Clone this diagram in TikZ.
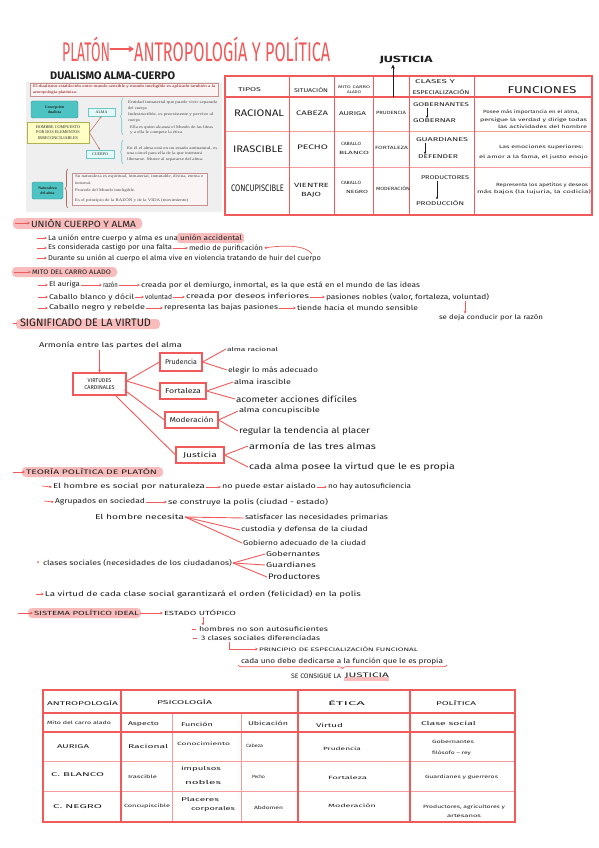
\documentclass[tikz,border=0pt]{standalone}
\usepackage{fontspec}
\setmainfont{Fira Sans}
\newfontfamily\serifpanel{Liberation Serif}
\usepackage{graphicx}
\usetikzlibrary{arrows.meta,decorations.pathreplacing,calc}
\definecolor{rd}{HTML}{F05A5A}
\definecolor{pk}{HTML}{F8BCBC}
\definecolor{ink}{HTML}{1E1E1E}
\definecolor{tl}{HTML}{4EC3C3}
\definecolor{tld}{HTML}{2A9A9A}
\definecolor{yl}{HTML}{FFFFC6}
\definecolor{yld}{HTML}{B0B050}
\definecolor{cy}{HTML}{E2FAFA}
\definecolor{cyd}{HTML}{6CC8C8}
\definecolor{pb}{HTML}{FBF4F4}
\definecolor{pbd}{HTML}{C89090}
\definecolor{brn}{HTML}{B86A5C}
\definecolor{panel}{HTML}{EFEFEF}
\definecolor{ltr}{HTML}{F59C9C}
\newcommand{\fw}[2]{\resizebox{#1pt}{\height}{#2}}
\begin{document}
\begin{tikzpicture}[x=1pt,y=-1pt,
  tx/.style={inner sep=0.8pt,anchor=west,text=ink,font=\fontsize{7}{8}\selectfont},
  txs/.style={tx,font=\fontsize{5.5}{6}\selectfont},
  txt/.style={tx,font=\fontsize{4.6}{5}\selectfont},
  txm/.style={tx,font=\fontsize{8.5}{9}\selectfont},
  txb/.style={tx,font=\fontsize{9.5}{10}\selectfont},
  txc/.style={inner sep=0.8pt,anchor=center,text=ink,font=\fontsize{6}{7}\selectfont},
  hd/.style={tx,font=\fontsize{7.5}{8}\selectfont},
  rarr/.style={draw=rd,line width=0.7pt,-{Stealth[length=2.8pt,width=2.6pt]}},
  barr/.style={draw=ink,line width=0.7pt,-{Stealth[length=2.5pt,width=2.3pt]}},
  rln/.style={draw=rd,line width=0.9pt},
  hlt/.style={fill=pk,rounded corners=4pt},
  vbx/.style={draw=rd,line width=1.1pt,inner sep=1.5pt,anchor=center,text=ink,font=\fontsize{7}{8}\selectfont},
  ps/.style={inner sep=0pt,anchor=west,text=black!72,font=\serifpanel\fontsize{3.9}{4.2}\selectfont},
  pbx/.style={inner sep=0pt,anchor=center,align=center,text=black!85,font=\serifpanel\bfseries\fontsize{3.9}{4.6}\selectfont},
  parr/.style={draw=brn,line width=0.5pt,-{Stealth[length=2pt,width=2pt]}},
]
\fill[white] (0,0) rectangle (599,848);
\useasboundingbox (0,0) rectangle (599,848);

% ---------- title ----------
\node[inner sep=0pt,anchor=west,text=rd,font=\fontsize{27}{28}\selectfont] (ti1) at (62,49) {\fw{48}{PLATÓN}};
\node[inner sep=0pt,anchor=west,text=rd,font=\fontsize{27}{28}\selectfont] (ti2) at (134,49) {\fw{196}{ANTROPOLOGÍA Y POLÍTICA}};
\draw[draw=rd,line width=1.2pt,-{Straight Barb[length=4pt,width=5pt]}] (ti1.east) -- (ti2.west);

\node[inner sep=0.5pt,anchor=center,text=ink,font=\bfseries\fontsize{9}{10}\selectfont] (jus) at (406,60) {\fw{53}{JUSTICIA}};
\node[inner sep=0pt,anchor=west,text=ink,font=\bfseries\fontsize{11}{12}\selectfont] (dual) at (50,76) {\fw{125}{DUALISMO ALMA-CUERPO}};

% ---------- panel ----------
\fill[panel] (26,82) rectangle (222,212);
\draw[pbd,fill=pb,line width=0.5pt] (30,83) rectangle (218,96);
\node[ps,text=red!55!black] (pt1) at (33,87) {\fw{182}{El dualismo establecido entre mundo sensible y mundo inteligible es aplicado también a la}};
\node[ps,text=red!55!black] (pt2) at (33,92.5) {\fw{44}{antropología platónica.}};
\node[pbx,draw=tld,fill=tl,rounded corners=1.5pt,minimum width=47pt,minimum height=17pt] (cd) at (54.5,109.5) {Concepción\\dualista};
\node[pbx,draw=yld,fill=yl,line width=0.6pt,minimum width=62pt,minimum height=21pt,font=\serifpanel\fontsize{4.2}{5.2}\selectfont] (hb) at (58,132.5) {HOMBRE COMPUESTO\\POR DOS ELEMENTOS\\IRRECONCILIABLES};
\node[pbx,draw=cyd,fill=cy,line width=0.6pt,minimum width=27pt,minimum height=8pt,font=\serifpanel\fontsize{4}{4.5}\selectfont] (alma) at (101.5,112) {ALMA};
\node[pbx,draw=cyd,fill=cy,line width=0.6pt,minimum width=28pt,minimum height=8pt,font=\serifpanel\fontsize{4}{4.5}\selectfont] (cue) at (100,154) {CUERPO};
\draw[parr] (hb.east) -- (alma.south);
\draw[parr] (hb.east) -- (cue.north);
\draw[cyd,line width=0.6pt,decorate,decoration={brace,amplitude=2.5pt}] (123,135) -- (123,98);
\node[ps] (e1) at (128,103) {\fw{89}{Entidad inmaterial que puede vivir separada}};
\node[ps] (e2) at (128,109) {\fw{19}{del cuerpo}};
\node[ps] (e3) at (128,115) {\fw{85}{Indestructible, es preexistente y pervive al}};
\node[ps] (e4) at (128,121) {\fw{12}{cuerpo}};
\node[ps] (e5) at (130,127.5) {\fw{83}{Ella es quien alcanza el Mundo de las Ideas}};
\node[ps] (e6) at (130,133) {\fw{52}{y a ella le compete la ética}};
\draw[cyd,line width=0.6pt,decorate,decoration={brace,amplitude=2.5pt}] (123,164) -- (123,140);
\node[ps] (c1l) at (127,148) {\fw{90}{En él el alma está en un estado antinatural, es}};
\node[ps] (c2l) at (127,154) {\fw{75}{una cárcel para ella de la que intentará}};
\node[ps] (c3l) at (127,160) {\fw{76}{liberarse. Muere al separarse del alma.}};
\node[pbx,draw=tld,fill=tl,rounded corners=1.5pt,minimum width=31pt,minimum height=17pt] (na) at (47.5,190.5) {Naturaleza\\[1pt]del alma};
\draw[brn,line width=0.7pt,decorate,decoration={brace,amplitude=3pt}] (68,208) -- (68,169);
\draw[pbd,fill=pb,line width=0.5pt] (72,173) rectangle (207,205);
\node[ps] (n1l) at (75,177) {\fw{128}{Su naturaleza es espiritual, inmaterial, inmutable, divina, eterna e}};
\node[ps] (n2l) at (75,183) {\fw{16}{inmortal.}};
\node[ps] (n3l) at (75,191) {\fw{60}{Procede del Mundo inteligible.}};
\node[ps] (n4l) at (75,200) {\fw{113}{Es el principio de la RAZÓN y de la VIDA (movimiento)}};

% ---------- top table ----------
\draw[rd,line width=1.1pt] (225,97) -- (592,97);
\draw[ltr,line width=1pt] (225,132) -- (592,132) (225,167) -- (592,167);
\foreach \cx in {289,334,373,409,474} {\draw[rd,line width=1pt] (\cx,76) -- (\cx,215);}
\draw[rd,line width=1.7pt] (225,76) rectangle (592,215);

\node[txs] (tTip) at (237,90) {\fw{23}{TIPOS}};
\node[txs] (tSit) at (293,90) {\fw{34}{SITUACIÓN}};
\node[txc,font=\fontsize{3.8}{4}\selectfont] (tMi1) at (354,87) {\fw{32}{MITO CARRO}};
\node[txc,font=\fontsize{3.8}{4}\selectfont] (tMi2) at (354,92) {\fw{14}{ALADO}};
\node[txc,font=\fontsize{5.5}{6}\selectfont] (tCl1) at (435,82) {\fw{40}{CLASES Y}};
\node[txc,font=\fontsize{5.5}{6}\selectfont] (tCl2) at (441,92) {\fw{57}{ESPECIALIZACIÓN}};
\node[txc,font=\fontsize{10}{11}\selectfont] (tFun) at (542,90) {\fw{69}{FUNCIONES}};
\coordinate (jst) at (393,97);
\draw[draw=ink,line width=1pt,-{Stealth[length=4pt,width=4pt]}] (jst) -- (jst |- jus.south);

\node[txb] (r1) at (233,113) {\fw{50}{RACIONAL}};
\node[txb] (r2) at (232,149) {\fw{50}{IRASCIBLE}};
\node[txb] (r3) at (230,188) {\fw{53}{CONCUPISCIBLE}};
\node[tx,font=\fontsize{6.5}{7}\selectfont] (s1) at (295,113) {\fw{32}{CABEZA}};
\node[tx,font=\fontsize{6.5}{7}\selectfont] (s2) at (296,147) {\fw{31}{PECHO}};
\node[tx,font=\fontsize{6}{7}\selectfont] (s3a) at (293,185) {\fw{35}{VIENTRE}};
\node[tx,font=\fontsize{6}{7}\selectfont] (s3b) at (300,195) {\fw{20}{BAJO}};
\node[txs] (c1) at (338,114) {\fw{27}{AURIGA}};
\node[txt] (c2a) at (340,144) {\fw{20}{CABALLO}};
\node[txt] (c2b) at (338,153) {\fw{30}{BLANCO}};
\node[txt] (c3a) at (340,183) {\fw{20}{CABALLO}};
\node[txt] (c3b) at (345,192) {\fw{22}{NEGRO}};
\node[txt] (v1) at (375,113) {\fw{30}{PRUDENCIA}};
\node[txt] (v2) at (374,148) {\fw{33}{FORTALEZA}};
\node[txt] (v3) at (375,188) {\fw{34}{MODERACIÓN}};
\coordinate (q1) at (427,0);
\coordinate (q2) at (425,0);
\coordinate (q3) at (437,0);
\node[txs] (k1a) at (412,105) {\fw{56}{GOBERNANTES}};
\node[txs] (k1b) at (412,121) {\fw{43}{GOBERNAR}};
\draw[barr] (k1a.south -| q1) -- (k1b.north -| q1);
\node[txs] (k2a) at (415,140) {\fw{52}{GUARDIANES}};
\node[txs] (k2b) at (417,157) {\fw{40}{DEFENDER}};
\draw[barr] (k2a.south -| q2) -- (k2b.north -| q2);
\node[txs] (k3a) at (420,178) {\fw{48}{PRODUCTORES}};
\node[txs] (k3b) at (415,203) {\fw{48}{PRODUCCIÓN}};
\draw[barr] (k3a.south -| q3) -- (k3b.north -| q3);
\node[txt] (f1a) at (482,112) {\fw{96}{Posee más importancia en el alma,}};
\node[txt] (f1b) at (479,120) {\fw{107}{persigue la verdad y dirige todas}};
\node[txt] (f1c) at (497,127) {\fw{89}{las actividades del hombre}};
\node[txt] (f2a) at (498,147) {\fw{84}{Las emociones superiores:}};
\node[txt] (f2b) at (478,157) {\fw{109}{el amor a la fama, el justo enojo}};
\node[txt] (f3a) at (495,185) {\fw{92}{Representa los apetitos y deseos}};
\node[txt] (f3b) at (476,192) {\fw{114}{más bajos (la lujuria, la codicia)}};

% ---------- unión cuerpo y alma ----------
\fill[hlt] (13,218) rectangle (142,229);
\node[hd,font=\fontsize{9}{10}\selectfont] (h1) at (30,223) {\fw{105}{UNIÓN CUERPO Y ALMA}};
\coordinate (a1) at (15,223);
\draw[rarr] (a1) -- (h1.west);
\fill[hlt,rounded corners=3pt] (177,233) rectangle (244,243);
\node[tx] (u1) at (47,238) {\fw{130}{La unión entre cuerpo y alma es una}};
\node[tx] (u1b) at (179,238) {\fw{62}{unión accidental}};
\node[tx] (u2) at (47,248) {\fw{124}{Es considerada castigo por una falta}};
\node[tx] (u2b) at (188,248) {\fw{74}{medio de purificación}};
\draw[rarr] (u2.east) -- (u2b.west);
\node[tx] (u3) at (47,258) {\fw{273}{Durante su unión al cuerpo el alma vive en violencia tratando de huir del cuerpo}};
\coordinate (b1) at (37,238); \draw[rarr] (b1) -- (u1.west);
\coordinate (b2) at (37,248); \draw[rarr] (b2) -- (u2.west);
\coordinate (b3) at (37,258); \draw[rarr] (b3) -- (u3.west);
\coordinate (cv) at (312,254);
\draw[rarr] (cv) .. controls (305,245) and (285,245) .. (u2b.east);

% ---------- mito ----------
\fill[hlt] (12,267) rectangle (117,277);
\node[hd,font=\fontsize{6.5}{7}\selectfont] (h2) at (31,272) {\fw{79}{MITO DEL CARRO ALADO}};
\coordinate (a2) at (14,272);
\draw[rarr] (a2) -- (h2.west);
\node[tx] (m1a) at (48,285) {\fw{31}{El auriga}};
\node[tx] (m1b) at (102,285) {\fw{15}{razón}};
\node[tx] (m1c) at (140,285) {\fw{279}{creada por el demiurgo, inmortal, es la que está en el mundo de las ideas}};
\draw[rarr] (m1a.east) -- (m1b.west);
\draw[rarr] (m1b.east) -- (m1c.west);
\node[tx] (m2a) at (48,297) {\fw{85}{Caballo blanco y dócil}};
\node[tx] (m2b) at (144,297) {\fw{27}{voluntad}};
\node[tx] (m2c) at (185,297) {\fw{123}{creada por deseos inferiores}};
\node[tx] (m2d) at (325,297) {\fw{163}{pasiones nobles (valor, fortaleza, voluntad)}};
\draw[rarr] (m2a.east) -- (m2b.west);
\draw[rarr] (m2b.east) -- (m2c.west);
\draw[rarr] (m2c.east) -- (m2d.west);
\node[tx,font=\fontsize{6.5}{7}\selectfont] (sd) at (438,318) {\fw{104}{se deja conducir por la razón}};
\coordinate (sdc) at (465,301);
\draw[rarr] (sdc) -- (sdc |- sd.north);
\node[tx] (m3a) at (48,308) {\fw{96}{Caballo negro y rebelde}};
\node[tx] (m3b) at (163,308) {\fw{114}{representa las bajas pasiones}};
\node[tx] (m3c) at (296,308) {\fw{121}{tiende hacia el mundo sensible}};
\draw[rarr] (m3a.east) -- (m3b.west);
\draw[rarr] (m3b.east) -- (m3c.west);
\coordinate (b4) at (38,285); \draw[rarr] (b4) -- (m1a.west);
\coordinate (b5) at (38,297); \draw[rarr] (b5) -- (m2a.west);
\coordinate (b6) at (38,308); \draw[rarr] (b6) -- (m3a.west);

% ---------- significado de la virtud ----------
\fill[hlt] (16,319) rectangle (160,329);
\draw[rd,line width=1pt] (13,323) -- (17,323);
\node[tx,font=\fontsize{11}{12}\selectfont] (h3) at (19,323) {\fw{131}{SIGNIFICADO DE LA VIRTUD}};
\node[tx] (ar) at (38,345) {\fw{143}{Armonía entre las partes del alma}};
\node[vbx,minimum width=53pt,minimum height=22pt,align=center,font=\fontsize{5.5}{6.5}\selectfont] (vc) at (99.5,384) {VIRTUDES\\CARDINALES};
\draw[rarr] (ar.south -| vc.north) -- (vc.north);
\node[vbx,minimum width=42pt,minimum height=18pt] (pr) at (181,362) {\fw{32}{Prudencia}};
\node[vbx,minimum width=46pt,minimum height=16pt] (fo) at (183,391) {\fw{36}{Fortaleza}};
\node[vbx,minimum width=53pt,minimum height=16pt] (mo) at (191.5,420) {\fw{44}{Moderación}};
\node[vbx,minimum width=48pt,minimum height=16pt] (ju) at (200,455) {\fw{34}{Justicia}};
\coordinate (vo) at ($(vc.east)+(0,-3)$);
\draw[rln] (vo) -- (pr.west);
\draw[rln] (vo) -- (fo.west);
\draw[rln] ($(vc.east)+(-2,6)$) -- (mo.west);
\draw[rln] ($(vc.south east)+(-11,0)$) -- (ju.west);
\node[txs] (pr1) at (226,349) {\fw{51}{alma racional}};
\node[tx] (pr2) at (227,370) {\fw{90}{elegir lo más adecuado}};
\node[tx] (fo1) at (233,382) {\fw{57}{alma irascible}};
\node[txm] (fo2) at (235,399) {\fw{121}{acometer acciones difíciles}};
\node[tx] (mo1) at (238,411) {\fw{81}{alma concupiscible}};
\node[txm] (mo2) at (238,431) {\fw{131}{regular la tendencia al placer}};
\node[txm] (ju1) at (248,446) {\fw{127}{armonía de las tres almas}};
\node[txm] (ju2) at (248,467) {\fw{206}{cada alma posee la virtud que le es propia}};
\draw[rln] (pr.east) -- (pr1.west);
\draw[rln] (pr.east) -- (pr2.west);
\draw[rln] (fo.east) -- (fo1.west);
\draw[rln] (fo.east) -- (fo2.west);
\draw[rln] (mo.east) -- (mo1.west);
\draw[rln] (mo.east) -- (mo2.west);
\draw[rln] (ju.east) -- (ju1.west);
\draw[rln] (ju.east) -- (ju2.west);

% ---------- teoría política ----------
\fill[hlt] (22,467) rectangle (163,477);
\node[hd,font=\fontsize{6.5}{7}\selectfont] (h4) at (25,472) {\fw{131}{TEORÍA POLÍTICA DE PLATÓN}};
\coordinate (a4) at (13,472);
\draw[rarr] (a4) -- (h4.west);
\node[tx] (p1a) at (52,487) {\fw{152}{El hombre es social por naturaleza}};
\node[tx] (p1b) at (221,487) {\fw{94}{no puede estar aislado}};
\node[tx] (p1c) at (327,487) {\fw{83}{no hay autosuficiencia}};
\draw[rarr] (p1a.east) -- (p1b.west);
\draw[rarr] (p1b.east) -- (p1c.west);
\coordinate (b7) at (42,486); \draw[rarr] (b7) -- (p1a.west);
\node[tx] (p2a) at (54,502) {\fw{90}{Agrupados en sociedad}};
\node[tx] (p2b) at (167,502) {\fw{160}{se construye la polis (ciudad - estado)}};
\draw[rarr] (p2a.east) -- (p2b.west);
\coordinate (b8) at (44,501); \draw[rarr] (b8) -- (p2a.west);
\node[tx] (nh) at (94,517) {\fw{89}{El hombre necesita}};
\node[tx] (n1) at (244,518) {\fw{143}{satisfacer las necesidades primarias}};
\node[tx] (n2) at (240,530) {\fw{127}{custodia y defensa de la ciudad}};
\node[tx] (n3) at (242,543) {\fw{123}{Gobierno adecuado de la ciudad}};
\draw[rln] (nh.east) -- (n1.west);
\draw[rln] (nh.east) -- (n2.west);
\draw[rln] (nh.east) -- (n3.west);
\fill[rd] (38,562) circle (1pt);
\node[tx] (cs) at (42,563) {\fw{189}{clases sociales (necesidades de los ciudadanos)}};
\node[tx] (g1) at (265,554) {\fw{54}{Gobernantes}};
\node[tx] (g2) at (265,565) {\fw{50}{Guardianes}};
\node[tx,font=\fontsize{8}{9}\selectfont] (g3) at (267,577) {\fw{52}{Productores}};
\draw[rln] (cs.east) -- (g1.west);
\draw[rln] (cs.east) -- (g2.west);
\draw[rln] (cs.east) -- (g3.west);
\node[tx] (lv) at (44,594) {\fw{316}{La virtud de cada clase social garantizará el orden (felicidad) en la polis}};
\coordinate (b9) at (36,594); \draw[rarr] (b9) -- (lv.west);

% ---------- sistema político ideal ----------
\fill[hlt] (28,608) rectangle (141,618);
\node[hd,font=\fontsize{6}{7}\selectfont] (si) at (33,613) {\fw{105}{SISTEMA POLÍTICO IDEAL}};
\coordinate (a5) at (18,613);
\draw[rarr] (a5) -- (si.west);
\node[hd,font=\fontsize{6}{7}\selectfont] (eu) at (163,613) {\fw{72}{ESTADO UTÓPICO}};
\draw[rarr] (si.east) -- (eu.west);
\node[tx,font=\fontsize{6.5}{7}\selectfont] (hs) at (198,629) {\fw{129}{hombres no son autosuficientes}};
\coordinate (eud) at (203,617);
\draw[rarr] (eud) -- (eud |- hs.north);
\draw[rd,line width=0.8pt] (191.5,629) -- (195.5,629);
\node[tx,font=\fontsize{6.5}{7}\selectfont] (cl) at (200,638) {\fw{119}{3 clases sociales diferenciadas}};
\draw[rd,line width=0.8pt] (192.5,638) -- (196.5,638);
\node[tx,font=\fontsize{5}{6}\selectfont] (pe) at (258,649) {\fw{159}{PRINCIPIO DE ESPECIALIZACIÓN FUNCIONAL}};
\coordinate (hk) at (229,642);
\draw[rarr] (hk) -- (hk |- pe.west) -- (pe.west);
\node[tx] (cu) at (240,661) {\fw{202}{cada uno debe dedicarse a la función que le es propia}};
\draw[rd,line width=0.7pt,decorate,decoration={brace,amplitude=3.5pt}] (447,665) -- (238,665);
\fill[pk] (344,677) rectangle (389,681);
\node[tx,font=\fontsize{6.5}{7}\selectfont] (sc1) at (290,676) {\fw{50}{SE CONSIGUE LA}};
\node[tx,font=\fontsize{6.5}{7}\selectfont] (sc2) at (344,676) {\fw{44}{JUSTICIA}};

% ---------- bottom table ----------
\draw[ltr,line width=1pt] (43,761) -- (515,761) (43,791) -- (515,791);
\draw[ltr,line width=1pt] (172,713) -- (172,822) (241,713) -- (241,822);
\draw[rd,line width=1.3pt] (43,713) -- (515,713) (43,732) -- (515,732);
\foreach \cx in {121,298,410} {\draw[rd,line width=1.3pt] (\cx,690) -- (\cx,822);}
\draw[rd,line width=1.6pt] (43,690) rectangle (515,822);

\node[txs] (bA) at (46,703) {\fw{71}{ANTROPOLOGÍA}};
\node[txs] (bP) at (156,702) {\fw{55}{PSICOLOGÍA}};
\node[txs] (bE) at (327,703) {\fw{37}{ÉTICA}};
\node[txs] (bPo) at (435,703) {\fw{40}{POLÍTICA}};
\node[txt] (bM) at (46,723) {\fw{64}{Mito del carro alado}};
\node[txs] (bAs) at (127,724) {\fw{31}{Aspecto}};
\node[txs] (bFu) at (180,724) {\fw{32}{Función}};
\node[txs] (bUb) at (247,723) {\fw{40}{Ubicación}};
\node[txs] (bVi) at (315,725) {\fw{27}{Virtud}};
\node[txs] (bCs) at (420,723) {\fw{55}{Clase social}};

\node[txs] (ra1) at (56,747) {\fw{32}{AURIGA}};
\node[txs] (ra2) at (127,746) {\fw{40}{Racional}};
\node[txt] (ra3) at (176,744) {\fw{53}{Conocimiento}};
\node[txt] (ra4) at (245,746) {\fw{17}{Cabeza}};
\node[txt] (ra5) at (322,749) {\fw{38}{Prudencia}};
\node[txt] (ra6) at (431,742) {\fw{42}{Gobernantes}};
\node[txt] (ra7) at (431,753) {\fw{39}{filósofo – rey}};

\node[txs] (rb1) at (50,775) {\fw{53}{C. BLANCO}};
\node[txt] (rb2) at (127,777) {\fw{29}{Irascible}};
\node[txs] (rb3a) at (180,769) {\fw{40}{impulsos}};
\node[txs] (rb3b) at (184,782) {\fw{36}{nobles}};
\node[txt] (rb4) at (251,777) {\fw{13}{Pecho}};
\node[txt] (rb5) at (327,778) {\fw{39}{Fortaleza}};
\node[txt] (rb6) at (424,777) {\fw{73}{Guardianes y guerreros}};

\node[txs] (rc1) at (52,807) {\fw{49}{C. NEGRO}};
\node[txt] (rc2) at (123,806) {\fw{46}{Concupiscible}};
\node[txs] (rc3a) at (180,799) {\fw{38}{Placeres}};
\node[txs] (rc3b) at (190,809) {\fw{44}{corporales}};
\node[txt] (rc4) at (253,808) {\fw{29}{Abdomen}};
\node[txt] (rc5) at (327,806) {\fw{48}{Moderación}};
\node[txt] (rc6a) at (422,807) {\fw{82}{Productores, agricultores y}};
\node[txt] (rc6b) at (446,816) {\fw{34}{artesanos}};
\end{tikzpicture}
\end{document}
